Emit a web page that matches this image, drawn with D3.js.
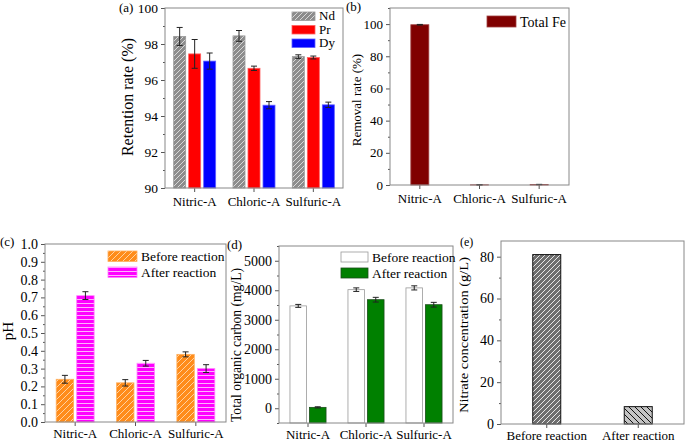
<!DOCTYPE html>
<html>
<head>
<meta charset="utf-8">
<script src="https://d3js.org/d3.v7.min.js"></script>
<style>
body { margin: 0; background: #fff; }
svg { font-family: 'Liberation Serif', 'Times New Roman', serif; }
.tick text { font-size: 13px; fill: #000; }
.tick line { stroke: #555; }
.lab { font-size: 13px; fill: #000; }
</style>
</head>
<body>
<svg width="685" height="442"></svg>
<script>
// categories
const acids = ["Nitric-A", "Chloric-A", "Sulfuric-A"];
const elements = ["Nd", "Pr", "Dy"];
const stages = ["Before reaction", "After reaction"];

// (a) retention rate (%)
const ndRet = [98.42, 98.45, 97.30];
const ndErr = [0.50, 0.30, 0.10];
const prRet = [97.45, 96.65, 97.25];
const prErr = [0.80, 0.12, 0.08];
const dyRet = [97.05, 94.60, 94.62];
const dyErr = [0.45, 0.20, 0.15];

// (b) removal rate of total Fe (%)
const feRemoval = [99.6, 0.1, 0.3];
const feErr = [0.2, 0.0, 0.1];

// (c) pH
const phBefore = [0.24, 0.22, 0.38];
const phBeforeErr = [0.022, 0.018, 0.014];
const phAfter = [0.71, 0.33, 0.30];
const phAfterErr = [0.022, 0.016, 0.022];

// (d) total organic carbon (mg/L)
const tocBefore = [3470, 4020, 4080];
const tocBeforeErr = [50, 60, 70];
const tocAfter = [30, 3680, 3510];
const tocAfterErr = [20, 80, 80];

// (e) nitrate concentration (g/L)
const nitrate = [81, 8.3];

const svg = d3.select("svg");
const defs = svg.append("defs");

function hatch(id, size, bg, line, path, w) {
  const p = defs.append("pattern").attr("id", id)
    .attr("patternUnits", "userSpaceOnUse")
    .attr("width", size).attr("height", size);
  p.append("rect").attr("width", size).attr("height", size).attr("fill", bg);
  p.append("path").attr("d", path).attr("stroke", line).attr("stroke-width", w);
}
const fwd = s => `M0,${s} L${s},0 M${-s/2},${s/2} L${s/2},${-s/2} M${s/2},${s*1.5} L${s*1.5},${s/2}`;
const bwd = s => `M0,0 L${s},${s} M${-s/2},${s/2} L${s/2},${s*1.5} M${s/2},${-s/2} L${s*1.5},${s/2}`;
hatch("ndH", 5, "#8c8c8c", "#d8d8d8", fwd(5), 1);
hatch("orH", 6, "#ff8c1a", "#ffd2a0", fwd(6), 1);
hatch("mgH", 4, "#ff00ff", "#ffb0ff", "M0,3.5 L4,3.5", 1);
hatch("e1H", 5, "#6e6e6e", "#e8e8e8", fwd(5), 1);
hatch("e2H", 6, "#c4c4c4", "#111", bwd(6), 1);

function clean(s) {
  s.attr("font-family", null).attr("font-size", null);
  s.select(".domain").remove();
}

function panel(box, domain, majors, minors, cats, fmt, font) {
  const g = svg.append("g");
  const x = d3.scaleBand().domain(cats).range([box.l, box.r]);
  const y = d3.scaleLinear().domain(domain).range([box.b, box.t]);
  g.append("g").attr("transform", `translate(${box.l},0)`)
    .call(d3.axisLeft(y).tickValues(minors).tickSize(2).tickFormat(""))
    .call(clean);
  const ya = g.append("g").attr("transform", `translate(${box.l},0)`)
    .call(d3.axisLeft(y).tickValues(majors).tickSize(4).tickPadding(3).tickFormat(fmt))
    .call(clean);
  if (font) ya.selectAll("text").style("font-size", font);
  g.append("g").attr("transform", `translate(0,${box.b})`)
    .call(d3.axisBottom(x).tickSize(4).tickPadding(box.b > 400 ? 3 : 5))
    .call(clean);
  const bars = g.append("g");
  g.append("rect").attr("x", box.l).attr("y", box.t)
    .attr("width", box.r - box.l).attr("height", box.b - box.t)
    .attr("fill", "none").attr("stroke", "#888");
  return { g: bars, x, y, box };
}

function errBar(g, cx, y0, y1) {
  const e = g.append("g").attr("stroke", "#222").attr("stroke-width", 1);
  e.append("line").attr("x1", cx).attr("x2", cx).attr("y1", y0).attr("y2", y1);
  e.append("line").attr("x1", cx - 3).attr("x2", cx + 3).attr("y1", y0).attr("y2", y0);
  e.append("line").attr("x1", cx - 3).attr("x2", cx + 3).attr("y1", y1).attr("y2", y1);
}

function groupBars(p, series, inner, base) {
  const x1 = d3.scaleBand().domain(series.map(s => s.name)).range(inner)
    .paddingInner(inner.pad).paddingOuter(inner.pad / 2);
  series.forEach(s => {
    s.values.forEach((v, i) => {
      const x0 = p.x(acids[i]) + p.x.bandwidth() / 2 + x1(s.name);
      p.g.append("rect").attr("x", x0).attr("width", x1.bandwidth())
        .attr("y", p.y(v)).attr("height", p.y(base) - p.y(v))
        .attr("fill", s.fill).attr("stroke", s.stroke).attr("stroke-width", 0.8);
      if (s.err) errBar(p.g, x0 + x1.bandwidth() / 2, p.y(v + s.err[i]), p.y(v - s.err[i]));
    });
  });
}

function legend(x, ys, w, h, items, font) {
  items.forEach((it, i) => {
    svg.append("rect").attr("x", x).attr("y", ys[i]).attr("width", w).attr("height", h)
      .attr("fill", it.fill).attr("stroke", it.stroke).attr("stroke-width", 0.8);
    svg.append("text").attr("class", "lab").attr("x", x + w + 4).attr("y", ys[i] + h - 0.5)
      .style("font-size", font).text(it.name);
  });
}

function yLabel(x, y, txt, font, len) {
  const t = svg.append("text").attr("class", "lab").attr("text-anchor", "middle")
    .attr("transform", `translate(${x},${y}) rotate(-90)`)
    .style("font-size", font).text(txt);
  if (len) t.attr("textLength", len).attr("lengthAdjust", "spacingAndGlyphs");
}

function tag(x, y, txt, font) {
  svg.append("text").attr("class", "lab").attr("x", x).attr("y", y).style("font-size", font).text(txt);
}

// (a)
const pa = panel({ l: 165, r: 343, t: 8, b: 188 }, [90, 100],
  d3.range(90, 101, 2), d3.range(91, 100, 2), acids, d3.format("d"), "13.5px");
const inA = [-22.5, 22.5]; inA.pad = 0.2;
groupBars(pa, [
  { name: "Nd", values: ndRet, err: ndErr, fill: "url(#ndH)", stroke: "#9a9a9a" },
  { name: "Pr", values: prRet, err: prErr, fill: "#ff0000", stroke: "#ff6060" },
  { name: "Dy", values: dyRet, err: dyErr, fill: "#0000ff", stroke: "#6060ff" }
], inA, 90);
legend(292, [12, 25.5, 39], 23, 8.5, [
  { name: "Nd", fill: "url(#ndH)", stroke: "#9a9a9a" },
  { name: "Pr", fill: "#ff0000", stroke: "#ff6060" },
  { name: "Dy", fill: "#0000ff", stroke: "#6060ff" }
], "13px");
yLabel(133, 97, "Retention rate (%)", "16px");
tag(119, 12, "(a)", "13px");

// (b)
const pb = panel({ l: 390, r: 569, t: 8, b: 185 }, [0, 110],
  d3.range(0, 101, 20), d3.range(10, 111, 20), acids, d3.format("d"));
const inB = [-9, 9]; inB.pad = 0;
groupBars(pb, [
  { name: "Fe", values: feRemoval, err: feErr, fill: "#800000", stroke: "#a04040" }
], inB, 0);
legend(487, [16], 29, 11, [{ name: "Total Fe", fill: "#800000", stroke: "#a04040" }], "14px");
yLabel(361, 100, "Removal rate (%)", "13px");
tag(346, 11, "(b)", "13px");

// (c)
const pc = panel({ l: 45, r: 226, t: 244, b: 422 }, [0, 1],
  d3.range(0, 1.01, 0.1), d3.range(0.05, 1, 0.1), acids, d3.format(".1f"), "14px");
const inC = [-20.5, 20.5]; inC.pad = 0.15;
groupBars(pc, [
  { name: stages[0], values: phBefore, err: phBeforeErr, fill: "url(#orH)", stroke: "#ffb060" },
  { name: stages[1], values: phAfter, err: phAfterErr, fill: "url(#mgH)", stroke: "#ff80ff" }
], inC, 0);
legend(108, [251, 267], 29, 10.5, [
  { name: stages[0], fill: "url(#orH)", stroke: "#ffb060" },
  { name: stages[1], fill: "url(#mgH)", stroke: "#ff80ff" }
], "13.5px");
yLabel(13, 331, "pH", "15px");
tag(0, 246, "(c)", "13px");

// (d)
const pd = panel({ l: 279, r: 453, t: 246, b: 423 }, [-500, 5500],
  d3.range(0, 5001, 1000), d3.range(-500, 5501, 1000), acids, d3.format("d"), "14px");
const inD = [-19.5, 19.5]; inD.pad = 0.15;
groupBars(pd, [
  { name: stages[0], values: tocBefore, err: tocBeforeErr, fill: "#ffffff", stroke: "#999" },
  { name: stages[1], values: tocAfter, err: tocAfterErr, fill: "#008000", stroke: "#1a4d1a" }
], inD, -500);
legend(341, [252, 268], 27, 10, [
  { name: stages[0], fill: "#ffffff", stroke: "#999" },
  { name: stages[1], fill: "#008000", stroke: "#1a4d1a" }
], "13.5px");
yLabel(241, 345, "Total organic carbon (mg/L)", "14px", 154);
tag(227, 249, "(d)", "13px");

// (e)
const pe = panel({ l: 501, r: 684, t: 241, b: 424 }, [0, 87.5],
  d3.range(0, 81, 20), d3.range(10, 81, 20), stages, d3.format("d"), "14px");
const fillsE = ["url(#e1H)", "url(#e2H)"];
nitrate.forEach((v, i) => {
  const cx = pe.x(stages[i]) + pe.x.bandwidth() / 2;
  pe.g.append("rect").attr("x", cx - 14).attr("width", 28)
    .attr("y", pe.y(v)).attr("height", pe.y(0) - pe.y(v))
    .attr("fill", fillsE[i]).attr("stroke", "#111").attr("stroke-width", 1);
});
yLabel(468, 335, "Nitrate concentration (g/L)", "13.5px", 156);
tag(460, 246, "(e)", "12px");
</script>
</body>
</html>
